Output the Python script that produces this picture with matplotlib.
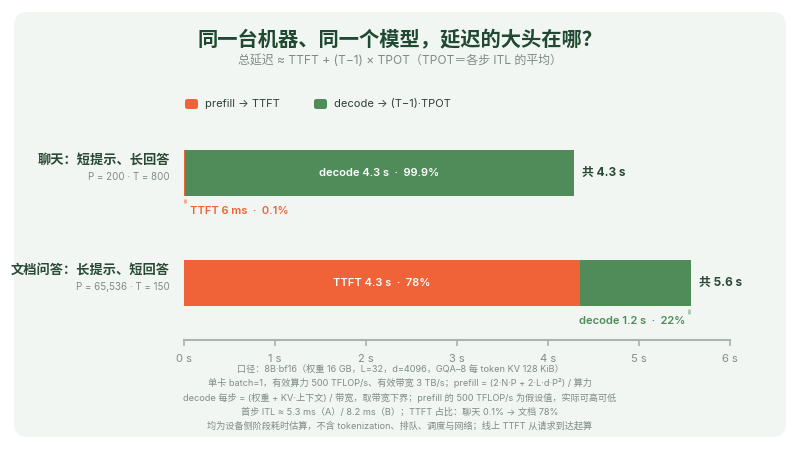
import matplotlib
matplotlib.use("Agg")
import matplotlib.pyplot as plt
from matplotlib.patches import FancyBboxPatch

plt.rcParams['font.family'] = ['Inter', 'Noto Sans CJK SC', 'DejaVu Sans']

# data (seconds)
scenarios = ["聊天：短提示、长回答", "文档问答：长提示、短回答"]
params = ["P = 200 · T = 800", "P = 65,536 · T = 150"]
ttft = [0.0064, 4.35]
decode = [4.284, 1.22]
ttft_txt = ["TTFT 6 ms  ·  0.1%", "TTFT 4.3 s  ·  78%"]
decode_txt = ["decode 4.3 s  ·  99.9%", "decode 1.2 s  ·  22%"]
total_txt = ["共 4.3 s", "共 5.6 s"]
xticks = [0, 1, 2, 3, 4, 5, 6]
notes = [
    "口径：8B·bf16（权重 16 GB，L=32，d=4096，GQA–8 每 token KV 128 KiB）",
    "单卡 batch=1，有效算力 500 TFLOP/s、有效带宽 3 TB/s；prefill = (2·N·P + 2·L·d·P²) / 算力",
    "decode 每步 = (权重 + KV·上下文) / 带宽，取带宽下界；prefill 的 500 TFLOP/s 为假设值，实际可高可低",
    "首步 ITL ≈ 5.3 ms（A）/ 8.2 ms（B）；TTFT 占比：聊天 0.1% → 文档 78%",
    "均为设备侧阶段耗时估算，不含 tokenization、排队、调度与网络；线上 TTFT 从请求到达起算",
]

ORANGE = "#f06338"
GREEN = "#4f8c59"
DARK = "#1f4a31"
GRAY = "#7f8c84"
PANEL = "#f2f6f3"

fig = plt.figure(figsize=(8, 4.5), dpi=100)
fig.patch.set_facecolor("white")

# background axes in pixel coords
bg = fig.add_axes([0, 0, 1, 1])
bg.set_xlim(0, 800)
bg.set_ylim(450, 0)
bg.axis("off")
bg.add_patch(FancyBboxPatch((14, 12), 772, 425, boxstyle="round,pad=0,rounding_size=14",
                            facecolor=PANEL, edgecolor="none"))

bg.text(400, 40, "同一台机器、同一个模型，延迟的大头在哪？", ha="center", va="center",
        fontsize=14.6, fontweight="bold", color=DARK)
bg.text(400, 61, "总延迟 ≈ TTFT + (T−1) × TPOT（TPOT＝各步 ITL 的平均）", ha="center", va="center",
        fontsize=8.6, color=GRAY)

# legend
for x0, col, lab in [(185, ORANGE, "prefill → TTFT"), (314, GREEN, "decode → (T−1)·TPOT")]:
    bg.add_patch(FancyBboxPatch((x0, 99), 13, 10, boxstyle="round,pad=0,rounding_size=2.5",
                                facecolor=col, edgecolor="none"))
    bg.text(x0 + 20, 104, lab, ha="left", va="center", fontsize=8, color="#2f3f35")

# notes
for i, line in enumerate(notes):
    bg.text(400, 369 + i * 14.3, line, ha="center", va="center", fontsize=6.6, color=GRAY)

# main axes: x 0..6 s from px 184 to 730, rows centered at px 173 / 283
ax = fig.add_axes([184 / 800, 1 - 340 / 450, (730 - 184) / 800, 210 / 450])
ax.set_facecolor("none")
ax.set_xlim(0, 6)
ax.set_ylim(1.518, -0.391)
rows = list(range(len(scenarios)))
h = 46 / 110

ax.barh(rows, ttft, height=h, color=ORANGE, linewidth=0)
ax.barh(rows, decode, left=ttft, height=h, color=GREEN, linewidth=0)

for i in rows:
    tot = ttft[i] + decode[i]
    ax.annotate(total_txt[i], xy=(tot, i), xytext=(8, 0), textcoords="offset pixels",
                ha="left", va="center", fontsize=8.5, fontweight="bold", color="#2c4a38")
    # the dominant segment gets its label inside, the small one below
    if ttft[i] > decode[i]:
        ax.text(ttft[i] / 2, i, ttft_txt[i], ha="center", va="center",
                fontsize=8, fontweight="semibold", color="white")
        ax.plot([tot - 0.02, tot - 0.02], [i + h / 2 + 3 / 110, i + h / 2 + 8 / 110],
                color="#a8c6ad", lw=2, solid_capstyle="butt")
        ax.annotate(decode_txt[i], xy=(tot, i + h / 2), xytext=(-5, -15), textcoords="offset pixels",
                    ha="right", va="center", fontsize=8, fontweight="semibold", color=GREEN)
    else:
        ax.text(ttft[i] + decode[i] / 2, i, decode_txt[i], ha="center", va="center",
                fontsize=8, fontweight="semibold", color="white")
        ax.plot([0.01, 0.01], [i + h / 2 + 3 / 110, i + h / 2 + 7 / 110],
                color="#f4a58b", lw=2, solid_capstyle="butt")
        ax.annotate(ttft_txt[i], xy=(0, i + h / 2), xytext=(6, -15), textcoords="offset pixels",
                    ha="left", va="center", fontsize=8, fontweight="semibold", color=ORANGE)

for s in ["top", "right", "left"]:
    ax.spines[s].set_visible(False)
ax.spines["bottom"].set_color("#a9b5ad")
ax.spines["bottom"].set_linewidth(1.5)
ax.set_yticks([])
ax.set_xticks(xticks)
ax.set_xticklabels([f"{t} s" for t in xticks])
ax.tick_params(axis="x", length=4, width=1.2, color="#a9b5ad", labelcolor=GRAY,
               labelsize=8, pad=6)

# category labels
for i, (name, p) in enumerate(zip(scenarios, params)):
    yc = 173 + i * 110
    bg.text(170, yc - 13, name, ha="right", va="center", fontsize=9.5, fontweight="bold", color="#2a4a36")
    bg.text(170, yc + 4, p, ha="right", va="center", fontsize=7, color=GRAY)

fig.savefig("out.png", dpi=100, facecolor="white")
